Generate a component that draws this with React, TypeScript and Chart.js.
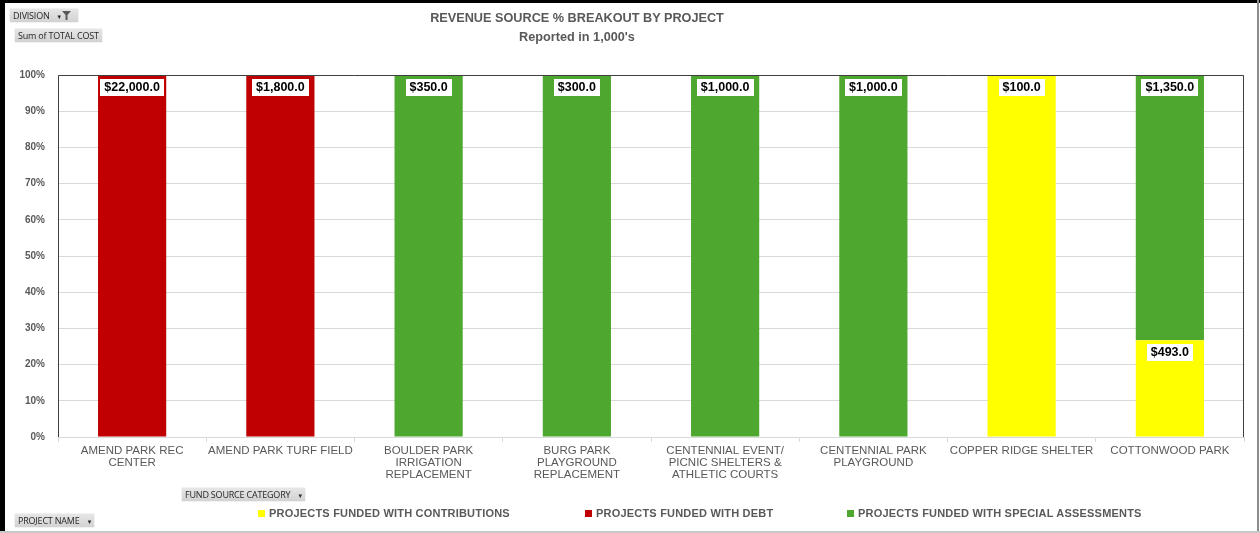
import React, { useEffect, useRef } from "react";
import { Chart, registerables } from "chart.js";

Chart.register(...registerables);

const projectLabels: string[][] = [
  ["AMEND PARK REC", "CENTER"],
  ["AMEND PARK TURF FIELD"],
  ["BOULDER PARK", "IRRIGATION", "REPLACEMENT"],
  ["BURG PARK", "PLAYGROUND", "REPLACEMENT"],
  ["CENTENNIAL EVENT/", "PICNIC SHELTERS &", "ATHLETIC COURTS"],
  ["CENTENNIAL PARK", "PLAYGROUND"],
  ["COPPER RIDGE SHELTER"],
  ["COTTONWOOD PARK"],
];

const contributions = [0, 0, 0, 0, 0, 0, 100, 493];
const debt = [22000, 1800, 0, 0, 0, 0, 0, 0];
const specialAssessments = [0, 0, 350, 300, 1000, 1000, 0, 1350];

const seriesNames = [
  "PROJECTS FUNDED WITH CONTRIBUTIONS",
  "PROJECTS FUNDED WITH DEBT",
  "PROJECTS FUNDED WITH SPECIAL ASSESSMENTS",
];
const seriesColors = ["#FFFF00", "#C00000", "#4EA72E"];
const yTickValues = [0, 10, 20, 30, 40, 50, 60, 70, 80, 90, 100];

const rawSeries = [contributions, debt, specialAssessments];
const totals = projectLabels.map((_, i) =>
  rawSeries.reduce((s, arr) => s + arr[i], 0)
);

const FONT = "'Liberation Sans', Arial, sans-serif";

const fmt = (v: number) =>
  "$" +
  v.toLocaleString("en-US", { minimumFractionDigits: 1, maximumFractionDigits: 1 });

const valueLabelPlugin = {
  id: "valueLabels",
  afterDatasetsDraw(chart: any) {
    const ctx = chart.ctx;
    const area = chart.chartArea;
    ctx.save();
    ctx.strokeStyle = "#404040";
    ctx.lineWidth = 1;
    ctx.beginPath();
    ctx.moveTo(Math.round(area.left) + 0.5, Math.round(area.bottom));
    ctx.lineTo(Math.round(area.left) + 0.5, Math.round(area.top) + 0.5);
    ctx.lineTo(Math.round(area.right) - 0.5, Math.round(area.top) + 0.5);
    ctx.lineTo(Math.round(area.right) - 0.5, Math.round(area.bottom));
    ctx.stroke();

    ctx.font = `bold 12.5px ${FONT}`;
    ctx.textAlign = "center";
    ctx.textBaseline = "middle";
    chart.data.datasets.forEach((_: any, di: number) => {
      const meta = chart.getDatasetMeta(di);
      const raw = rawSeries[di];
      meta.data.forEach((bar: any, i: number) => {
        if (!raw[i]) return;
        const text = fmt(raw[i]);
        const w = Math.round(ctx.measureText(text).width + 8);
        const h = 17;
        const x = Math.round(bar.x - w / 2);
        const y = Math.round(bar.y + 4);
        ctx.fillStyle = "#ffffff";
        ctx.fillRect(x, y, w, h);
        ctx.fillStyle = "#000000";
        ctx.fillText(text, bar.x, y + h / 2 + 0.5);
      });
    });
    ctx.restore();
  },
};

const btnStyle: React.CSSProperties = {
  position: "absolute",
  background: "linear-gradient(#e6e6e6, #d2d2d2)",
  color: "#262626",
  fontFamily: "'Open Sans', 'DejaVu Sans', sans-serif",
  fontSize: 9,
  lineHeight: "13px",
  height: 13,
  padding: "0 3px",
  boxShadow: "0 0 1px #b0b0b0",
  whiteSpace: "nowrap",
  letterSpacing: -0.2,
};

export default function App() {
  const canvasRef = useRef<HTMLCanvasElement | null>(null);

  useEffect(() => {
    const canvas = canvasRef.current;
    if (!canvas) return;
    const chart = new Chart(canvas, {
      type: "bar",
      data: {
        labels: projectLabels,
        datasets: rawSeries.map((arr, di) => ({
          label: seriesNames[di],
          data: arr.map((v, i) => (totals[i] ? (v / totals[i]) * 100 : 0)),
          backgroundColor: seriesColors[di],
          borderWidth: 0,
          categoryPercentage: 1,
          barPercentage: 0.46,
        })),
      },
      options: {
        responsive: false,
        animation: false,
        devicePixelRatio: 1,
        layout: { padding: { left: 0, right: 16, top: 75, bottom: 0 } },
        plugins: {
          legend: { display: false },
          title: { display: false },
          tooltip: { enabled: false },
        },
        scales: {
          x: {
            stacked: true,
            grid: {
              display: true,
              drawOnChartArea: false,
              drawTicks: true,
              tickLength: 5,
              color: "#d9d9d9",
              offset: true,
            },
            border: { display: true, color: "#d9d9d9" },
            ticks: {
              color: "#595959",
              font: { family: FONT, size: 11.5, lineHeight: 1.05 },
              padding: 3,
              maxRotation: 0,
              minRotation: 0,
              autoSkip: false,
            },
            afterFit(scale: any) {
              scale.height = 533 - 437;
            },
          },
          y: {
            stacked: true,
            min: 0,
            max: 100,
            afterBuildTicks(scale: any) {
              scale.ticks = yTickValues.map((v) => ({ value: v }));
            },
            grid: { color: "#d9d9d9", drawTicks: false },
            border: { display: false },
            ticks: {
              color: "#595959",
              font: { family: FONT, size: 10, weight: "bold" },
              padding: 13,
              callback: (v: any) => v + "%",
            },
            afterFit(scale: any) {
              scale.width = 58;
            },
          },
        },
      },
      plugins: [valueLabelPlugin],
    });
    return () => chart.destroy();
  }, []);

  const legendPos = [258, 585, 847];

  return (
    <div
      style={{
        position: "fixed",
        left: 0,
        top: 0,
        width: 1260,
        height: 533,
        background: "#ffffff",
        overflow: "hidden",
      }}
    >
      <canvas
        ref={canvasRef}
        width={1260}
        height={533}
        style={{ position: "absolute", left: 0, top: 0, width: 1260, height: 533 }}
      />
      <div style={{ position: "absolute", left: 0, top: 0, width: 5, height: 533, background: "#000" }} />
      <div style={{ position: "absolute", left: 0, top: 0, width: 1260, height: 3, background: "#000" }} />
      <div style={{ position: "absolute", left: 1257, top: 0, width: 2, height: 533, background: "#8c8c8c" }} />
      <div style={{ position: "absolute", left: 0, top: 531, width: 1260, height: 2, background: "#c8c8c8" }} />

      <div
        style={{
          position: "absolute",
          left: 327,
          top: 9,
          width: 500,
          textAlign: "center",
          fontFamily: FONT,
          fontWeight: "bold",
          fontSize: 12.7,
          color: "#595959",
          lineHeight: "19px",
        }}
      >
        <div>REVENUE SOURCE % BREAKOUT BY PROJECT</div>
        <div>Reported in 1,000's</div>
      </div>

      <div style={{ ...btnStyle, left: 10, top: 9, width: 62 }}>
        DIVISION
        <span style={{ marginLeft: 8, fontSize: 7 }}>▾</span>
        <svg width="9" height="9" viewBox="0 0 9 9" style={{ marginLeft: 1, verticalAlign: -1 }}>
          <path d="M0 0 H9 L5.5 4 V9 H3.5 V4 Z" fill="#595959" />
        </svg>
      </div>
      <div style={{ ...btnStyle, left: 15, top: 29 }}>Sum of TOTAL COST</div>
      <div style={{ ...btnStyle, left: 182, top: 488 }}>
        FUND SOURCE CATEGORY <span style={{ marginLeft: 6, fontSize: 7 }}>▾</span>
      </div>
      <div style={{ ...btnStyle, left: 15, top: 514 }}>
        PROJECT NAME <span style={{ marginLeft: 6, fontSize: 7 }}>▾</span>
      </div>

      {seriesNames.map((name, i) => (
        <div
          key={name}
          style={{
            position: "absolute",
            left: legendPos[i],
            top: 505,
            height: 16,
            display: "flex",
            alignItems: "center",
            fontFamily: FONT,
            fontWeight: "bold",
            fontSize: 11,
            letterSpacing: 0.2,
            color: "#595959",
            whiteSpace: "nowrap",
          }}
        >
          <span
            style={{
              display: "inline-block",
              width: 7,
              height: 7,
              background: seriesColors[i],
              marginRight: 4,
            }}
          />
          {name}
        </div>
      ))}
    </div>
  );
}
